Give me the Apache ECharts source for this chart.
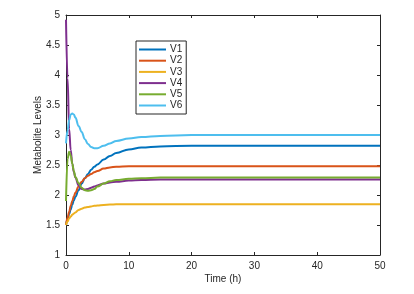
<!DOCTYPE html>
<html>
<head>
<meta charset="utf-8">
<script src="https://cdn.jsdelivr.net/npm/echarts@6/dist/echarts.min.js"></script>
<style>
html,body{margin:0;padding:0;background:#fff;}
#chart{width:414px;height:294px;}
</style>
</head>
<body>
<div id="chart"></div>
<script>
const seriesNames = ['V1', 'V2', 'V3', 'V4', 'V5', 'V6'];
const time = [0, 0.25, 0.5, 0.75, 1, 1.25, 1.5, 2, 2.5, 3, 3.5, 4, 4.5, 5, 6, 7, 8, 10, 12, 15, 20, 25, 30, 40, 50];
const V1 = [1.5, 1.59, 1.68, 1.76, 1.84, 1.91, 1.97, 2.08, 2.19, 2.28, 2.35, 2.42, 2.47, 2.51, 2.59, 2.65, 2.70, 2.76, 2.79, 2.81, 2.82, 2.82, 2.82, 2.82, 2.82];
const V2 = [1.5, 1.62, 1.72, 1.82, 1.90, 1.98, 2.04, 2.14, 2.22, 2.28, 2.32, 2.35, 2.38, 2.40, 2.44, 2.46, 2.47, 2.48, 2.48, 2.48, 2.48, 2.48, 2.48, 2.48, 2.48];
const V3 = [1.5, 1.56, 1.61, 1.64, 1.67, 1.69, 1.71, 1.75, 1.77, 1.79, 1.80, 1.81, 1.82, 1.825, 1.835, 1.84, 1.845, 1.845, 1.845, 1.845, 1.845, 1.845, 1.845, 1.845, 1.845];
const V4 = [4.92, 3.95, 3.1, 2.75, 2.52, 2.38, 2.29, 2.16, 2.10, 2.09, 2.10, 2.12, 2.14, 2.16, 2.19, 2.21, 2.22, 2.24, 2.25, 2.26, 2.26, 2.26, 2.26, 2.26, 2.26];
const V5 = [1.9, 2.6, 2.72, 2.66, 2.52, 2.40, 2.30, 2.20, 2.12, 2.08, 2.07, 2.08, 2.10, 2.14, 2.19, 2.23, 2.25, 2.27, 2.28, 2.29, 2.29, 2.29, 2.29, 2.29, 2.29];
const V6 = [2.86, 3.08, 3.25, 3.34, 3.36, 3.34, 3.29, 3.15, 3.05, 2.93, 2.85, 2.80, 2.78, 2.78, 2.82, 2.86, 2.90, 2.94, 2.965, 2.985, 3.0, 3.0, 3.0, 3.0, 3.0];
const xTicks = [0, 10, 20, 30, 40, 50];
const yTicks = [1, 1.5, 2, 2.5, 3, 3.5, 4, 4.5, 5];

const values = [V1, V2, V3, V4, V5, V6];
const colors = ['#0072BD', '#D95319', '#EDB120', '#7E2F8E', '#77AC30', '#4DBEEE'];
const axisColor = '#262626';
const font = 'Liberation Sans, Arial, Helvetica, sans-serif';

const chart = echarts.init(document.getElementById('chart'), null, {renderer: 'canvas'});

const baseAxis = {
  axisLine: {show: true, onZero: false, lineStyle: {color: axisColor, width: 1}},
  axisTick: {show: true, inside: true, length: 3, lineStyle: {color: axisColor}},
  splitLine: {show: false},
  axisLabel: {color: axisColor, fontSize: 10, fontFamily: font}
};

chart.setOption({
  animation: false,
  backgroundColor: '#ffffff',
  color: colors,
  grid: {left: 66, right: 34, top: 15, bottom: 39, containLabel: false},
  legend: {
    orient: 'vertical',
    left: 136,
    top: 41,
    data: seriesNames,
    icon: 'rect',
    itemWidth: 27,
    itemHeight: 2,
    itemGap: 0.2,
    padding: [3, 4, 3, 3],
    borderColor: axisColor,
    borderWidth: 1,
    backgroundColor: '#fff',
    textStyle: {color: axisColor, fontSize: 10, fontFamily: font, lineHeight: 11, padding: [0, 0, 0, -1]}
  },
  xAxis: [
    Object.assign({}, baseAxis, {
      type: 'value', min: xTicks[0], max: xTicks[xTicks.length - 1], interval: 10,
      name: 'Time (h)', nameLocation: 'middle', nameGap: 19, nameMoveOverlap: false,
      nameTextStyle: {color: axisColor, fontSize: 10, fontFamily: font},
      axisLabel: Object.assign({}, baseAxis.axisLabel, {margin: 6})
    }),
    Object.assign({}, baseAxis, {
      type: 'value', position: 'top', min: xTicks[0], max: xTicks[xTicks.length - 1], interval: 10,
      axisLabel: {show: false}
    })
  ],
  yAxis: [
    Object.assign({}, baseAxis, {
      type: 'value', min: yTicks[0], max: yTicks[yTicks.length - 1], interval: 0.5,
      name: 'Metabolite Levels', nameLocation: 'middle', nameGap: 23, nameMoveOverlap: false,
      nameTextStyle: {color: axisColor, fontSize: 10, fontFamily: font},
      axisLabel: Object.assign({}, baseAxis.axisLabel, {margin: 6})
    }),
    Object.assign({}, baseAxis, {
      type: 'value', position: 'right', min: yTicks[0], max: yTicks[yTicks.length - 1], interval: 0.5,
      axisLabel: {show: false}
    })
  ],
  series: seriesNames.map((name, k) => ({
    name: name,
    type: 'line',
    xAxisIndex: 0,
    yAxisIndex: 0,
    data: time.map((t, i) => [t, values[k][i]]),
    showSymbol: false,
    symbol: 'none',
    smooth: 0.4,
    smoothMonotone: 'x',
    lineStyle: {width: 2, color: colors[k]},
    itemStyle: {color: colors[k]},
    z: 2 + k
  }))
});
</script>
</body>
</html>
